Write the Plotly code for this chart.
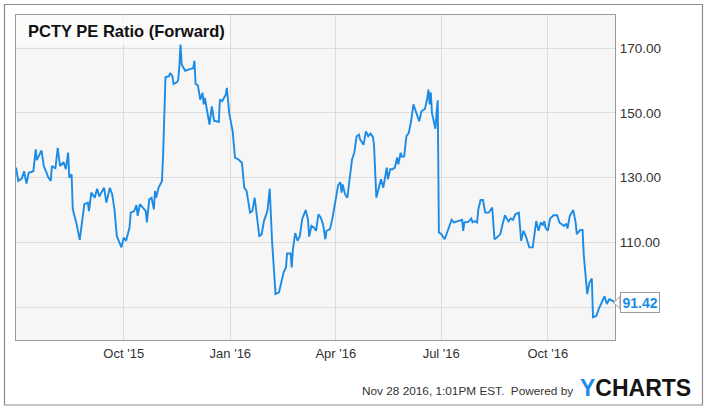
import plotly.graph_objects as go

dates = [
    "2015-06-30", "2015-07-02", "2015-07-05", "2015-07-07", "2015-07-09", "2015-07-11", "2015-07-15",
    "2015-07-17", "2015-07-18", "2015-07-22", "2015-07-24", "2015-07-28", "2015-07-30", "2015-07-31",
    "2015-08-03", "2015-08-05", "2015-08-07", "2015-08-10", "2015-08-12", "2015-08-14", "2015-08-15",
    "2015-08-17", "2015-08-18", "2015-08-21", "2015-08-24", "2015-08-28", "2015-08-31", "2015-09-01",
    "2015-09-03", "2015-09-06", "2015-09-08", "2015-09-10", "2015-09-11", "2015-09-14", "2015-09-16",
    "2015-09-19", "2015-09-21", "2015-09-23", "2015-09-25", "2015-09-29", "2015-10-01", "2015-10-03",
    "2015-10-06", "2015-10-07", "2015-10-10", "2015-10-12", "2015-10-13", "2015-10-15", "2015-10-20",
    "2015-10-21", "2015-10-23", "2015-10-25", "2015-10-27", "2015-10-28", "2015-10-29", "2015-10-31",
    "2015-11-03", "2015-11-04", "2015-11-06", "2015-11-09", "2015-11-10", "2015-11-12", "2015-11-13",
    "2015-11-16", "2015-11-17", "2015-11-18", "2015-11-19", "2015-11-20", "2015-11-23", "2015-11-25",
    "2015-11-27", "2015-11-30", "2015-12-01", "2015-12-02", "2015-12-04", "2015-12-06", "2015-12-08",
    "2015-12-09", "2015-12-10", "2015-12-14", "2015-12-16", "2015-12-18", "2015-12-20", "2015-12-22",
    "2015-12-23", "2015-12-25", "2015-12-28", "2015-12-29", "2015-12-31", "2016-01-03", "2016-01-05",
    "2016-01-08", "2016-01-11", "2016-01-13", "2016-01-15", "2016-01-18", "2016-01-20", "2016-01-22",
    "2016-01-26", "2016-01-28", "2016-01-30", "2016-02-02", "2016-02-04", "2016-02-06", "2016-02-09",
    "2016-02-12", "2016-02-16", "2016-02-18", "2016-02-19", "2016-02-22", "2016-02-23", "2016-02-24",
    "2016-02-26", "2016-02-28", "2016-03-01", "2016-03-03", "2016-03-06", "2016-03-08", "2016-03-09",
    "2016-03-11", "2016-03-13", "2016-03-15", "2016-03-17", "2016-03-19", "2016-03-21", "2016-03-23",
    "2016-03-24", "2016-03-27", "2016-03-29", "2016-03-31", "2016-04-03", "2016-04-05", "2016-04-06",
    "2016-04-07", "2016-04-09", "2016-04-11", "2016-04-13", "2016-04-15", "2016-04-17", "2016-04-19",
    "2016-04-21", "2016-04-22", "2016-04-25", "2016-04-27", "2016-04-29", "2016-05-01", "2016-05-03",
    "2016-05-04", "2016-05-06", "2016-05-08", "2016-05-10", "2016-05-12", "2016-05-15", "2016-05-16",
    "2016-05-18", "2016-05-20", "2016-05-22", "2016-05-24", "2016-05-25", "2016-05-27", "2016-05-28",
    "2016-05-30", "2016-06-01", "2016-06-03", "2016-06-05", "2016-06-07", "2016-06-10", "2016-06-12",
    "2016-06-14", "2016-06-17", "2016-06-19", "2016-06-20", "2016-06-21", "2016-06-22", "2016-06-23",
    "2016-06-26", "2016-06-27", "2016-06-28", "2016-06-29", "2016-07-01", "2016-07-04", "2016-07-07",
    "2016-07-10", "2016-07-12", "2016-07-16", "2016-07-19", "2016-07-20", "2016-07-21", "2016-07-24",
    "2016-07-27", "2016-07-28", "2016-07-30", "2016-08-01", "2016-08-02", "2016-08-04", "2016-08-06",
    "2016-08-08", "2016-08-11", "2016-08-14", "2016-08-16", "2016-08-18", "2016-08-21", "2016-08-23",
    "2016-08-25", "2016-08-28", "2016-08-30", "2016-09-01", "2016-09-03", "2016-09-06", "2016-09-08",
    "2016-09-10", "2016-09-12", "2016-09-15", "2016-09-18", "2016-09-21", "2016-09-23", "2016-09-25",
    "2016-09-27", "2016-09-28", "2016-09-29", "2016-10-01", "2016-10-03", "2016-10-06", "2016-10-09",
    "2016-10-11", "2016-10-15", "2016-10-17", "2016-10-18", "2016-10-20", "2016-10-23", "2016-10-25",
    "2016-10-26", "2016-10-29", "2016-10-31", "2016-11-01", "2016-11-03", "2016-11-04", "2016-11-06",
    "2016-11-08", "2016-11-09", "2016-11-12", "2016-11-14", "2016-11-17", "2016-11-19", "2016-11-21",
    "2016-11-23", "2016-11-26", "2016-11-28",
]

pe_forward = [
    133.1, 129.0, 129.7, 132.0, 128.2, 131.5, 132.0,
    138.7, 135.4, 138.4, 133.6, 130.0, 129.0, 133.6,
    132.8, 139.2, 133.6, 134.8, 132.6, 137.7, 130.0,
    131.0, 120.2, 116.2, 110.8, 121.8, 122.3, 119.7,
    125.4, 123.8, 126.6, 124.2, 124.9, 126.9, 122.3,
    126.9, 124.9, 120.2, 112.0, 108.5, 111.5, 110.5,
    114.6, 119.2, 119.7, 121.5, 118.2, 121.8, 119.7,
    116.2, 123.3, 123.8, 120.2, 125.9, 123.8, 126.9,
    129.0, 137.2, 161.0, 161.3, 162.3, 161.3, 158.9,
    159.5, 160.2, 164.3, 171.2, 164.9, 163.0, 163.3,
    163.5, 163.8, 166.1, 158.9, 158.5, 154.1, 156.2,
    152.6, 154.6, 146.4, 152.0, 147.6, 147.4, 147.2,
    154.1, 153.6, 155.6, 157.7, 150.0, 144.3, 136.2,
    135.6, 134.6, 126.9, 125.9, 119.2, 119.7, 123.8,
    112.0, 112.5, 116.6, 119.7, 126.6, 110.5, 94.1,
    94.6, 100.8, 102.3, 106.6, 106.6, 102.3, 107.9,
    112.9, 110.5, 112.0, 117.2, 120.0, 117.2, 111.8,
    115.1, 114.6, 113.6, 118.7, 117.7, 115.6, 111.0,
    113.6, 114.1, 117.2, 121.8, 127.6, 128.6, 125.4,
    127.9, 124.9, 123.8, 129.5, 135.6, 137.7, 142.8,
    143.3, 141.8, 140.2, 144.3, 142.8, 143.6, 142.6,
    140.2, 123.8, 126.4, 129.5, 126.9, 133.1, 129.5,
    132.6, 132.6, 133.1, 136.2, 134.1, 137.7, 136.5,
    136.5, 142.8, 143.8, 147.4, 152.6, 149.0, 147.4,
    150.5, 151.2, 154.6, 157.2, 152.6, 156.3, 150.0,
    145.1, 150.0, 153.9, 113.1, 112.6, 111.0, 114.1,
    117.0, 116.2, 116.6, 117.0, 113.6, 116.2, 116.3,
    117.4, 116.2, 116.6, 116.2, 120.2, 123.1, 123.1,
    119.2, 119.2, 120.8, 111.0, 111.5, 112.6, 115.6,
    118.4, 116.5, 117.4, 117.0, 118.7, 119.2, 110.5,
    113.6, 112.0, 108.5, 108.5, 116.6, 113.6, 116.2,
    115.3, 116.6, 114.6, 113.6, 117.4, 118.4, 118.4,
    116.2, 115.1, 115.8, 114.3, 118.2, 120.0, 116.2,
    112.6, 113.9, 113.9, 106.4, 99.2, 94.1, 97.7,
    98.9, 86.9, 87.4, 89.5, 92.0, 93.4, 91.0,
    92.5, 92.0, 91.42,
]

tick_dates = ["2015-10-01", "2016-01-01", "2016-04-01", "2016-07-01", "2016-10-01"]
tick_labels = ["Oct '15", "Jan '16", "Apr '16", "Jul '16", "Oct '16"]
y_ticks = [90, 110, 130, 150, 170]
# the 90 gridline label is hidden behind the last-value callout in the reference
y_tick_labels = ["", "110.00", "130.00", "150.00", "170.00"]

title_text = "PCTY PE Ratio (Forward)"
footer_text = "Nov 28 2016, 1:01PM EST.  Powered by"
last_value = pe_forward[-1]

BLUE = "#1b8be6"
FONT = "Liberation Sans, Arial, sans-serif"

fig = go.Figure()
fig.add_trace(go.Scatter(
    x=dates, y=pe_forward, mode="lines",
    line=dict(color=BLUE, width=1.9),
    hoverinfo="skip", showlegend=False,
))

W, H = 708, 410
ml, mr, mt, mb = 16, 93, 15, 70
pw, ph = W - ml - mr, H - mt - mb

def px_x(p):
    return (p - ml) / pw

def px_y(p):
    return (H - mb - p) / ph

fig.update_layout(
    width=W, height=H,
    margin=dict(l=ml, r=mr, t=mt, b=mb, pad=0),
    paper_bgcolor="white",
    plot_bgcolor="#f6f6f6",
    font=dict(family=FONT, size=13, color="#333333"),
    showlegend=False,
    xaxis=dict(
        type="date",
        range=[dates[0], dates[-1]],
        tickvals=tick_dates, ticktext=tick_labels,
        showgrid=True, gridcolor="#dcdcdc", gridwidth=1,
        showline=True, linecolor="#9a9a9a", linewidth=1, mirror=True,
        ticks="", zeroline=False,
        tickfont=dict(size=13, color="#333333"),
        ticklabelstandoff=1,
    ),
    yaxis=dict(
        range=[79.9, 180.2],
        side="right",
        tickvals=y_ticks, ticktext=y_tick_labels,
        showgrid=True, gridcolor="#dcdcdc", gridwidth=1,
        showline=True, linecolor="#9a9a9a", linewidth=1, mirror=True,
        ticks="", zeroline=False,
        tickfont=dict(size=13.5, color="#333333"),
        ticklabelstandoff=1,
    ),
    shapes=[
        # outer frame
        dict(type="rect", xref="paper", yref="paper",
             x0=px_x(4.5), x1=px_x(702.5), y0=px_y(405), y1=px_y(4.5),
             line=dict(color="#8c8c8c", width=1.2), fillcolor="rgba(0,0,0,0)", layer="below"),
        # title background
        dict(type="rect", xref="paper", yref="paper",
             x0=0, x1=px_x(230), y0=px_y(45), y1=1,
             line=dict(width=0), fillcolor="rgba(255,255,255,0.55)", layer="above"),
        # pointer of last-value callout
        dict(type="path", xref="paper", yref="y",
             xsizemode="pixel", ysizemode="pixel",
             xanchor=1, yanchor=last_value,
             path="M -1.5,0 L 5,-6 L 5,6 Z",
             fillcolor="white", line=dict(color="#9a9a9a", width=1), layer="above"),
    ],
    annotations=[
        dict(text="<b>" + title_text + "</b>", xref="paper", yref="paper",
             x=px_x(26), y=px_y(31), xanchor="left", yanchor="middle",
             showarrow=False, font=dict(size=16.5, color="#111111", family=FONT)),
        dict(text="<b>%.2f</b>" % last_value, xref="paper", yref="y",
             x=1, y=last_value, xanchor="left", yanchor="middle", xshift=4.5,
             showarrow=False, bgcolor="white", bordercolor="#9a9a9a", borderwidth=1,
             borderpad=1.5, font=dict(size=14, color=BLUE, family=FONT)),
        dict(text=footer_text, xref="paper", yref="paper",
             x=px_x(575), y=px_y(391), xanchor="right", yanchor="middle",
             showarrow=False, font=dict(size=11.8, color="#333333", family=FONT)),
        dict(text="<b><span style='color:" + BLUE + "'>Y</span>CHARTS</b>",
             xref="paper", yref="paper",
             x=px_x(578), y=px_y(388), xanchor="left", yanchor="middle",
             showarrow=False, font=dict(size=23, color="#151515", family=FONT)),
    ],
)

fig.write_html("out.html", config={"displayModeBar": False},
               post_script="document.body.style.margin='0px';")
